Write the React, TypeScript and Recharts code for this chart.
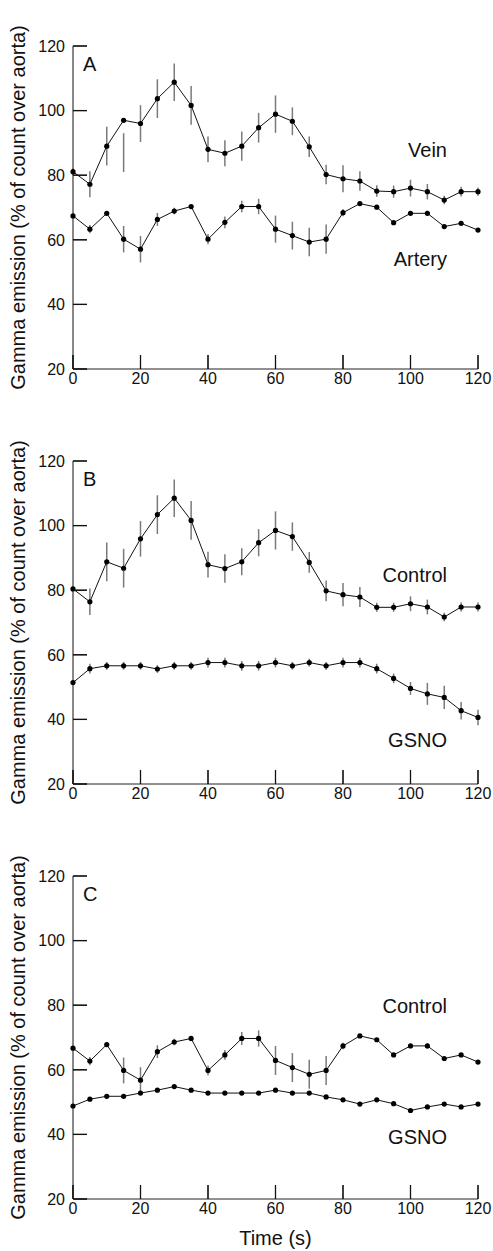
import React from 'react';
import { ComposedChart, Line, XAxis, YAxis, ErrorBar } from 'recharts';

const times = [0, 5, 10, 15, 20, 25, 30, 35, 40, 45, 50, 55, 60, 65, 70, 75, 80, 85, 90, 95, 100, 105, 110, 115, 120];
const xTicks = [0, 20, 40, 60, 80, 100, 120];
const yTicks = [20, 40, 60, 80, 100, 120];

// Panel A
const veinA = [81.1, 77.2, 89, 97, 96, 103.7, 108.8, 101.6, 88, 86.8, 89, 94.7, 98.9, 96.7, 88.8, 80.2, 78.9, 78.2, 75.1, 74.9, 76, 74.9, 72.3, 74.9, 74.9];
const veinAErr: (number | number[])[] = [1, 4, 6, [16, -4], 5.7, 6, 5.8, 6, 4, 4, 4.5, 4.6, 5.8, 4.3, 3.2, 3, 4.2, 3, 1.8, 1.9, 2.6, 2.4, 1.3, 1.5, 1.3];
const arteryA = [67.4, 63.3, 68.2, 60.2, 57.1, 66.3, 68.9, 70.3, 60.2, 65.4, 70.3, 70.3, 63.3, 61.3, 59.3, 60.2, 68.4, 71.2, 70.1, 65.3, 68.2, 68.2, 64.1, 65.1, 63.0];
const arteryAErr = [0.5, 1.3, 0.5, 4.1, 4.1, 2, 1, 0.5, 1.6, 1.8, 1.8, 2.4, 4.2, 4.3, 4.4, 4.5, 1.1, 0.5, 0.5, 0.5, 0.5, 0.8, 0.5, 0.5, 0.5];

// Panel B
const controlB = [80.4, 76.4, 88.8, 86.8, 95.9, 103.4, 108.5, 101.6, 87.9, 86.7, 88.8, 94.7, 98.5, 96.6, 88.6, 79.8, 78.6, 77.9, 74.7, 74.7, 75.8, 74.8, 71.7, 74.8, 74.8];
const controlBErr = [0.5, 4.1, 6, 6, 5.5, 6, 5.8, 6, 4, 4.4, 4.2, 4.2, 5.9, 4.4, 3.2, 3.2, 3.6, 3.1, 1.4, 1.4, 2.3, 2.3, 1.3, 1.4, 1.4];
const gsnoB = [51.4, 55.7, 56.6, 56.6, 56.6, 55.6, 56.6, 56.6, 57.6, 57.6, 56.6, 56.6, 57.6, 56.6, 57.6, 56.6, 57.6, 57.6, 55.7, 52.7, 49.6, 47.9, 46.8, 42.7, 40.6];
const gsnoBErr = [0.5, 1.5, 1.2, 1.2, 1.2, 1.2, 1.2, 1.2, 1.5, 1.5, 1.5, 1.5, 1.5, 1.2, 1.2, 1.2, 1.5, 1.5, 1.5, 1.5, 2, 3.4, 3.6, 2.7, 2.4];

// Panel C
const controlC = [66.7, 62.7, 67.8, 59.8, 56.8, 65.6, 68.6, 69.7, 59.8, 64.6, 69.7, 69.7, 62.9, 60.7, 58.6, 59.8, 67.4, 70.5, 69.3, 64.6, 67.4, 67.4, 63.5, 64.6, 62.4];
const controlCErr = [0.5, 1.3, 0.5, 4, 4, 2, 1, 0.5, 1.5, 1.5, 2, 2.5, 4.5, 4.5, 4.5, 4.5, 1, 0.5, 0.5, 0.5, 0.5, 0.8, 0.5, 0.5, 0.5];
const gsnoC = [48.8, 50.9, 51.8, 51.8, 52.8, 53.7, 54.8, 53.7, 52.8, 52.8, 52.8, 52.8, 53.7, 52.8, 52.8, 51.6, 50.7, 49.4, 50.7, 49.5, 47.4, 48.5, 49.4, 48.5, 49.4];
const gsnoCErr = times.map(() => 0);

const FONT = '"Liberation Sans", Arial, Helvetica, sans-serif';
const INK = '#111';
const TICK = 14;
// plot area layout (px)
const PL = 73;
const PT = 46;
const PW = 405;
const PH = 323;
const X_MIN = 0;
const X_MAX = 120;
const Y_MIN = 20;
const Y_MAX = 120;
const PANEL_TOPS = [0, 415, 830];
const xPx = (t: number) => PL + ((t - X_MIN) / (X_MAX - X_MIN)) * PW;
const yPx = (v: number) => PT + ((Y_MAX - v) / (Y_MAX - Y_MIN)) * PH;

const XTick = (props: any) => {
  const { x, y, payload } = props;
  return (
    <text x={x} y={y + 15} textAnchor="middle" fontSize={16} fontFamily={FONT} fill={INK}>
      {payload.value}
    </text>
  );
};

const YTick = (props: any) => {
  const { x, y, payload } = props;
  return (
    <text x={x - 8} y={y + 5.8} textAnchor="end" fontSize={16} fontFamily={FONT} fill={INK}>
      {payload.value}
    </text>
  );
};

type PanelProps = {
  top: number;
  height: number;
  letter: string;
  s1: number[];
  e1: (number | number[])[];
  s2: number[];
  e2: (number | number[])[];
  label1: string;
  label1Y: number;
  label2: string;
  label2Y: number;
  xTitle?: boolean;
};

const Panel = ({ top, height, letter, s1, e1, s2, e2, label1, label1Y, label2, label2Y, xTitle }: PanelProps) => {
  const data = times.map((t, i) => ({ t, a: s1[i], ae: e1[i], b: s2[i], be: e2[i] }));
  const dot = { r: 2.6, fill: '#000', stroke: '#000', strokeWidth: 0 };
  return (
    <div style={{ position: 'absolute', left: 0, top }}>
      <ComposedChart width={493} height={height} data={data} margin={{ top: PT, right: 493 - PL - PW, bottom: height - 415, left: 0 }}>
        <XAxis
          type="number"
          dataKey="t"
          domain={[X_MIN, X_MAX]}
          ticks={xTicks}
          interval={0}
          height={46}
          stroke="#222"
          tickSize={-TICK}
          tickMargin={TICK}
          tick={<XTick />}
        />
        <YAxis
          type="number"
          domain={[Y_MIN, Y_MAX]}
          ticks={yTicks}
          interval={0}
          width={PL}
          stroke="#111"
          tickSize={-TICK}
          tickMargin={TICK}
          tick={<YTick />}
          allowDataOverflow
        />
        <Line dataKey="a" stroke="#111" strokeWidth={1} dot={dot} activeDot={false} isAnimationActive={false}>
          <ErrorBar dataKey="ae" width={0} stroke="#7a7a7a" strokeWidth={1.5} direction="y" isAnimationActive={false} />
        </Line>
        <Line dataKey="b" stroke="#111" strokeWidth={1} dot={dot} activeDot={false} isAnimationActive={false}>
          <ErrorBar dataKey="be" width={0} stroke="#7a7a7a" strokeWidth={1.5} direction="y" isAnimationActive={false} />
        </Line>
        <text x={83} y={71} fontSize={20} fontFamily={FONT} fill={INK}>{letter}</text>
        <text x={447} y={label1Y} textAnchor="end" fontSize={20} fontFamily={FONT} fill={INK}>{label1}</text>
        <text x={447} y={label2Y} textAnchor="end" fontSize={20} fontFamily={FONT} fill={INK}>{label2}</text>
        <text
          x={25}
          y={207.5}
          transform="rotate(-90 25 207.5)"
          textAnchor="middle"
          fontSize={20}
          fontFamily={FONT}
          fill={INK}
        >
          Gamma emission (% of count over aorta)
        </text>
        {xTitle ? (
          <text x={275.5} y={415} textAnchor="middle" fontSize={20} fontFamily={FONT} fill={INK}>
            Time (s)
          </text>
        ) : null}
      </ComposedChart>
    </div>
  );
};

// Inward axis tick marks, drawn on an overlay above the three charts
const TickOverlay = () => (
  <svg
    width={493}
    height={1251}
    style={{ position: 'absolute', left: 0, top: 0, pointerEvents: 'none', zIndex: 10 }}
  >
    {PANEL_TOPS.map((top) => (
      <g key={'p' + top} transform={`translate(0 ${top})`}>
        {xTicks.map((t) => (
          <line key={'xt' + t} x1={xPx(t)} y1={PT + PH} x2={xPx(t)} y2={PT + PH - TICK} stroke="#111" strokeWidth={1.3} />
        ))}
        {yTicks.map((v) => (
          <line key={'yt' + v} x1={PL} y1={yPx(v)} x2={PL + TICK} y2={yPx(v)} stroke="#111" strokeWidth={1.3} />
        ))}
      </g>
    ))}
  </svg>
);

export default function App() {
  return (
    <div style={{ position: 'absolute', left: 0, top: 0, width: 493, height: 1251 }}>
      <Panel top={0} height={415} letter="A" s1={veinA} e1={veinAErr} s2={arteryA} e2={arteryAErr} label1="Vein" label1Y={157} label2="Artery" label2Y={266} />
      <Panel top={415} height={415} letter="B" s1={controlB} e1={controlBErr} s2={gsnoB} e2={gsnoBErr} label1="Control" label1Y={167} label2="GSNO" label2Y={332} />
      <Panel top={830} height={421} letter="C" s1={controlC} e1={controlCErr} s2={gsnoC} e2={gsnoCErr} label1="Control" label1Y={183} label2="GSNO" label2Y={314} xTitle />
      <TickOverlay />
    </div>
  );
}
